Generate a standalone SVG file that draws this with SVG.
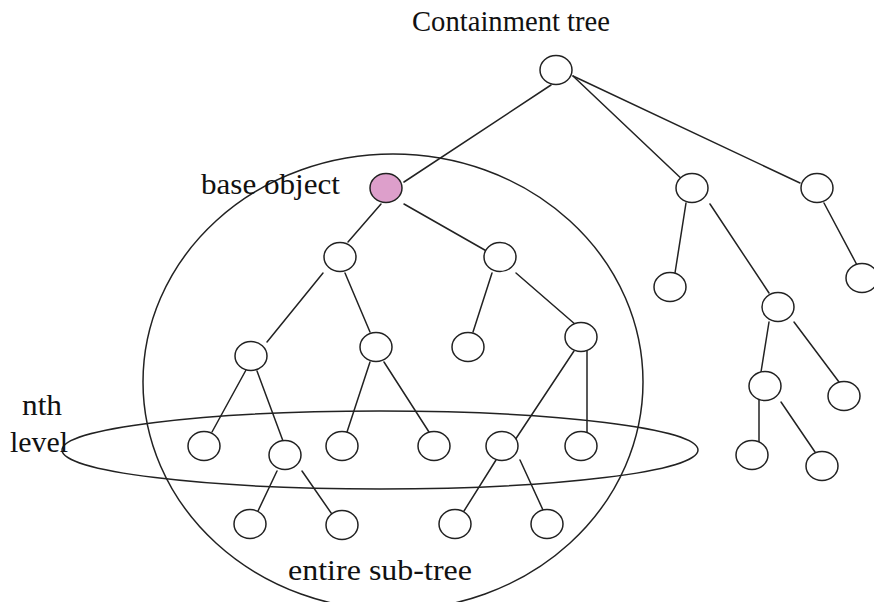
<svg xmlns="http://www.w3.org/2000/svg" width="874" height="602" viewBox="0 0 874 602">
  <style>
    .node { fill: #ffffff; stroke: #222222; stroke-width: 1.5; }
    .base { fill: #dd9fcb; stroke: #222222; stroke-width: 1.5; }
    .region { fill: none; stroke: #222222; stroke-width: 1.5; }
    .edges line { stroke: #222222; stroke-width: 1.5; stroke-linecap: round; }
    text { font-family: 'Liberation Serif', 'Times New Roman', Times, serif; font-size: 29px; fill: #111111; }
  </style>
  <rect width="874" height="602" fill="#ffffff"/>

  <!-- title -->
  <text x="412" y="31" textLength="198" lengthAdjust="spacingAndGlyphs">Containment tree</text>

  <!-- regions: whole sub-tree and nth level -->
  <ellipse class="region" cx="393" cy="382" rx="250" ry="228"/>
  <ellipse class="region" cx="380" cy="450" rx="318" ry="39"/>

  <text x="201" y="194" textLength="139" lengthAdjust="spacingAndGlyphs">base object</text>
  <text x="22" y="415" textLength="40" lengthAdjust="spacingAndGlyphs">nth</text>
  <text x="10" y="452" textLength="58" lengthAdjust="spacingAndGlyphs">level</text>
  <text x="288" y="580" textLength="184" lengthAdjust="spacingAndGlyphs">entire sub-tree</text>

  <!-- tree edges -->
  <g id="edges" class="edges">
    <line x1="551" y1="85" x2="404" y2="182"/>
    <line x1="573" y1="76" x2="686" y2="183"/>
    <line x1="573" y1="76" x2="800" y2="183"/>
    <line x1="381" y1="204" x2="348" y2="242"/>
    <line x1="404" y1="204" x2="490" y2="253"/>
    <line x1="686" y1="203" x2="675" y2="273"/>
    <line x1="710" y1="204" x2="769" y2="293"/>
    <line x1="824" y1="203" x2="857" y2="265"/>
    <line x1="323" y1="273" x2="267" y2="342"/>
    <line x1="345" y1="273" x2="370" y2="332"/>
    <line x1="492" y1="273" x2="473" y2="332"/>
    <line x1="516" y1="273" x2="576" y2="325"/>
    <line x1="246" y1="370" x2="212" y2="432"/>
    <line x1="257" y1="371" x2="283" y2="441"/>
    <line x1="370" y1="362" x2="347" y2="432"/>
    <line x1="384" y1="362" x2="429" y2="432"/>
    <line x1="574" y1="351" x2="513" y2="443"/>
    <line x1="587" y1="351" x2="587" y2="432"/>
    <line x1="277" y1="471" x2="258" y2="511"/>
    <line x1="302" y1="471" x2="336" y2="520"/>
    <line x1="496" y1="460" x2="464" y2="511"/>
    <line x1="520" y1="460" x2="543" y2="510"/>
    <line x1="769" y1="322" x2="761" y2="372"/>
    <line x1="794" y1="322" x2="839" y2="382"/>
    <line x1="759" y1="400" x2="759" y2="442"/>
    <line x1="781" y1="402" x2="815" y2="452"/>
  </g>

  <!-- nodes -->
  <g id="root"><ellipse class="node" cx="556" cy="70" rx="16" ry="14.5"/></g>
  <g id="base-object"><ellipse class="base" cx="386" cy="188" rx="16" ry="14.5"/></g>
  <g id="n-692-188"><ellipse class="node" cx="692" cy="188" rx="16" ry="14.5"/></g>
  <g id="n-817-188"><ellipse class="node" cx="817" cy="188" rx="16" ry="14.5"/></g>
  <g id="n-340-257"><ellipse class="node" cx="340" cy="257" rx="16" ry="14.5"/></g>
  <g id="n-500-257"><ellipse class="node" cx="500" cy="257" rx="16" ry="14.5"/></g>
  <g id="n-670-287"><ellipse class="node" cx="670" cy="287" rx="16" ry="14.5"/></g>
  <g id="n-862-278"><ellipse class="node" cx="862" cy="278" rx="16" ry="14.5"/></g>
  <g id="n-778-307"><ellipse class="node" cx="778" cy="307" rx="16" ry="14.5"/></g>
  <g id="n-251-356"><ellipse class="node" cx="251" cy="356" rx="16" ry="14.5"/></g>
  <g id="n-376-347"><ellipse class="node" cx="376" cy="347" rx="16" ry="14.5"/></g>
  <g id="n-468-347"><ellipse class="node" cx="468" cy="347" rx="16" ry="14.5"/></g>
  <g id="n-581-337"><ellipse class="node" cx="581" cy="337" rx="16" ry="14.5"/></g>
  <g id="n-765-386"><ellipse class="node" cx="765" cy="386" rx="16" ry="14.5"/></g>
  <g id="n-844-396"><ellipse class="node" cx="844" cy="396" rx="16" ry="14.5"/></g>
  <g id="n-204-446"><ellipse class="node" cx="204" cy="446" rx="16" ry="14.5"/></g>
  <g id="n-285-455"><ellipse class="node" cx="285" cy="455" rx="16" ry="14.5"/></g>
  <g id="n-342-446"><ellipse class="node" cx="342" cy="446" rx="16" ry="14.5"/></g>
  <g id="n-434-446"><ellipse class="node" cx="434" cy="446" rx="16" ry="14.5"/></g>
  <g id="n-502-446"><ellipse class="node" cx="502" cy="446" rx="16" ry="14.5"/></g>
  <g id="n-581-446"><ellipse class="node" cx="581" cy="446" rx="16" ry="14.5"/></g>
  <g id="n-752-455"><ellipse class="node" cx="752" cy="455" rx="16" ry="14.5"/></g>
  <g id="n-822-466"><ellipse class="node" cx="822" cy="466" rx="16" ry="14.5"/></g>
  <g id="n-250-524"><ellipse class="node" cx="250" cy="524" rx="16" ry="14.5"/></g>
  <g id="n-342-525"><ellipse class="node" cx="342" cy="525" rx="16" ry="14.5"/></g>
  <g id="n-455-524"><ellipse class="node" cx="455" cy="524" rx="16" ry="14.5"/></g>
  <g id="n-547-524"><ellipse class="node" cx="547" cy="524" rx="16" ry="14.5"/></g>
</svg>
